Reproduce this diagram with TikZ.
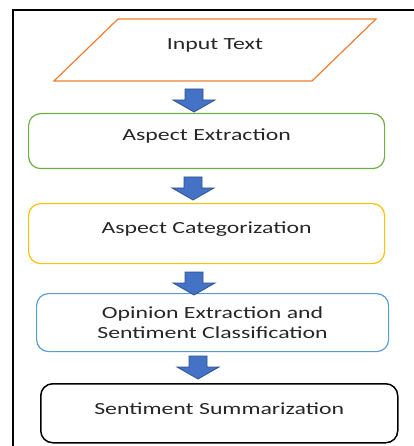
\documentclass[tikz,border=0pt]{standalone}
\usepackage{fontspec}
\setmainfont{Carlito}[FakeStretch=1.4]
\definecolor{corange}{HTML}{ED7D31}
\definecolor{cgreen}{HTML}{70AD47}
\definecolor{cyellow}{HTML}{FFC000}
\definecolor{cblue}{HTML}{5B9BD5}
\definecolor{arrfill}{HTML}{4472C4}
\definecolor{arrline}{HTML}{2F528F}
\begin{document}
\begin{tikzpicture}[x=1pt,y=-1pt,
  font=\fontsize{17}{20}\selectfont,
  box/.style={draw, rounded corners=12pt, line width=1.2pt, anchor=north west, inner sep=0pt},
  lbl/.style={align=center, inner sep=0pt, text=black!85},
  arr/.style={fill=arrfill, draw=arrline, line width=0.8pt},
  pics/downarr/.style={code={
    \draw[arr] (-9,0) -- (9,0) -- (9,11) -- (21,11) -- (0,23) -- (-21,11) -- (-9,11) -- cycle;}}]
\useasboundingbox (0,0) rectangle (413,446);
\draw[line width=2pt] (13,10) rectangle (440,470);
% input parallelogram
\coordinate (p1) at (118,19);
\coordinate (p2) at (376,19);
\coordinate (p3) at (312,81);
\coordinate (p4) at (54,81);
\draw[corange, line width=1.2pt] (p1) -- (p2) -- (p3) -- (p4) -- cycle;
\node[lbl] (input) at (215,45) {Input Text};
% boxes
\node[box, draw=cgreen, minimum width=356pt, minimum height=55pt] (b1) at (28,113) {};
\node[lbl] (t1) at ([yshift=5pt]b1.center) {Aspect Extraction};
\node[box, draw=cyellow, minimum width=356pt, minimum height=60pt] (b2) at (28,203) {};
\node[lbl] (t2) at ([yshift=5pt]b2.center) {Aspect Categorization};
\node[box, draw=cblue, minimum width=352pt, minimum height=58pt] (b3) at (36,293) {};
\node[lbl] (t3) at (b3.center) {Opinion Extraction and\\Sentiment Classification};
\node[box, draw=black, line width=1.5pt, minimum width=357pt, minimum height=59pt] (b4) at (40,383) {};
\node[lbl] (t4) at ([yshift=5pt]b4.center) {Sentiment Summarization};
% block arrows
\pic at (194,89) {downarr};
\pic at (193,177) {downarr};
\pic at (194,272) {downarr};
\pic at (198,356) {downarr};
\end{tikzpicture}
\end{document}
